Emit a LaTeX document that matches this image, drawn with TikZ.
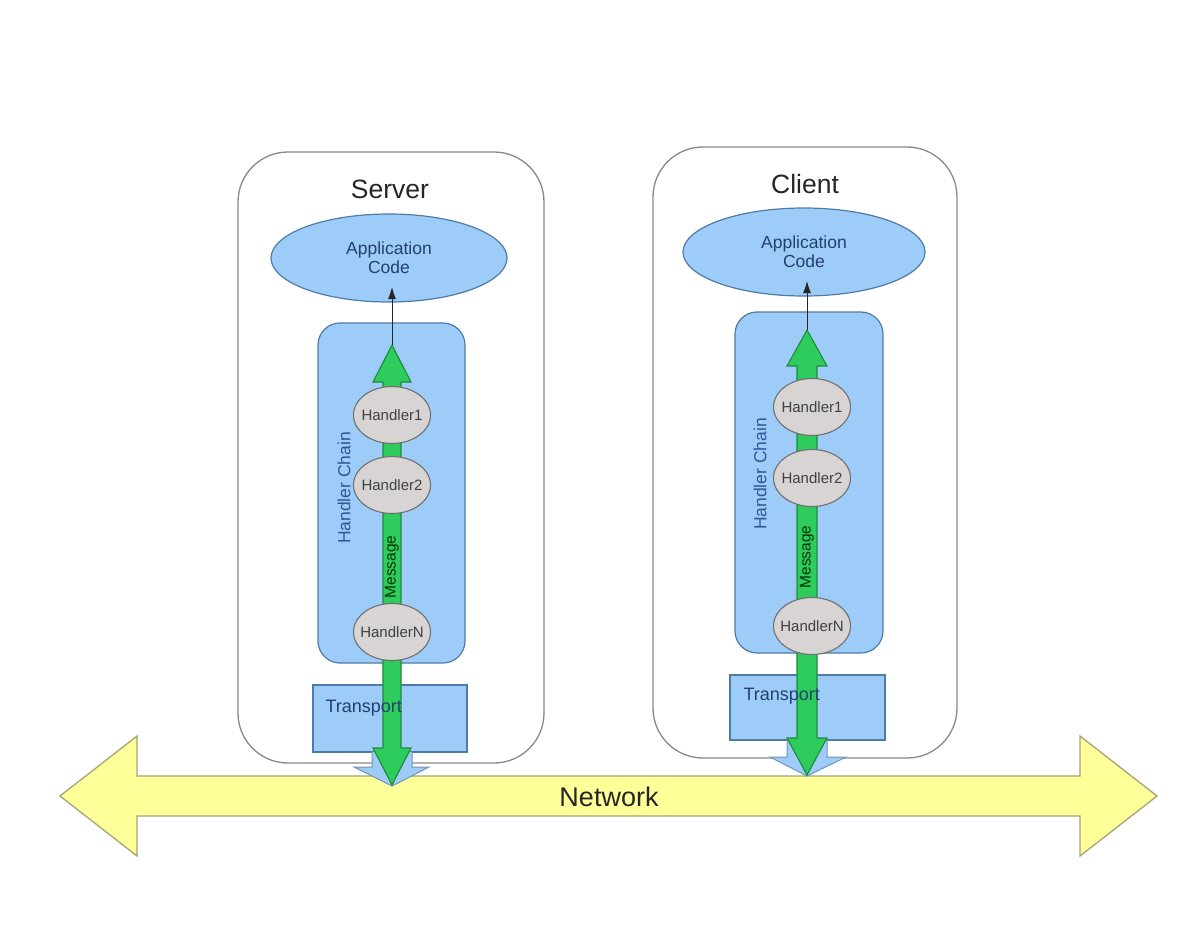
\documentclass[tikz,border=0pt]{standalone}
\usepackage{fontspec}
\setmainfont{Liberation Sans}
\usetikzlibrary{shapes.geometric,arrows.meta}
\definecolor{boxblue}{HTML}{9DCCF8}
\definecolor{blueedge}{HTML}{4E7CA6}
\definecolor{gfill}{HTML}{2ECC5C}
\definecolor{gedge}{HTML}{1E8A3C}
\definecolor{hfill}{HTML}{D8D4D4}
\definecolor{hedge}{HTML}{707070}
\definecolor{yfill}{HTML}{FFFF99}
\definecolor{yedge}{HTML}{A4A476}
\definecolor{outeredge}{HTML}{888888}
\definecolor{apptext}{HTML}{23406E}
\definecolor{chaintext}{HTML}{2A5A9A}
\tikzset{
  outerbox/.style={draw=outeredge, line width=1.3pt, fill=white, rounded corners=50pt},
  chainbox/.style={draw=blueedge, line width=1.2pt, fill=boxblue, rounded corners=22pt},
  transbox/.style={draw=blueedge, line width=1.2pt, fill=boxblue},
  appell/.style={ellipse, draw=blueedge, line width=1.2pt, fill=boxblue, inner sep=0pt,
     font=\fontsize{17.5}{19}\selectfont, text=apptext, align=center},
  handler/.style={ellipse, draw=hedge, line width=1.1pt, fill=hfill, inner xsep=-6pt, inner ysep=8pt,
     minimum width=77pt, minimum height=57pt, font=\fontsize{15}{17}\selectfont, text=black!75},
  greenarrow/.style={draw=gedge, line width=1.1pt, fill=gfill},
  palearrow/.style={draw=blueedge!80, line width=1pt, fill=boxblue},
  nettarrow/.style={draw=yedge, line width=1.3pt, fill=yfill},
  titletext/.style={font=\fontsize{26.5}{29}\selectfont, text=black!85},
  chainlabel/.style={rotate=90, font=\fontsize{17.5}{20}\selectfont, text=chaintext},
  msglabel/.style={rotate=90, font=\fontsize{15.5}{17}\selectfont, text=black!60!green!50!black},
  translabel/.style={anchor=west, font=\fontsize{18}{20}\selectfont, text=apptext},
  thinarrow/.style={draw=black!85, line width=0.9pt, -{Latex[length=12pt,width=8pt]}}
}
\begin{document}
\begin{tikzpicture}[x=1pt,y=-1pt]
\useasboundingbox[fill=white] (0,0) rectangle (1198,924);

% ---------- outer boxes ----------
\draw[outerbox] (238,152) rectangle (544,763);
\draw[outerbox] (653,147) rectangle (957,758);

% ---------- network arrow ----------
\draw[nettarrow] (60,796) -- (137,736) -- (137,776) -- (1080,776) -- (1080,736)
   -- (1157,796) -- (1080,856) -- (1080,816) -- (137,816) -- (137,856) -- cycle;
\node[font=\fontsize{27}{29}\selectfont, text=black!85] (net) at (609,797) {Network};

% ================= SERVER =================
\node[titletext] (stitle) at (390,189) {Server};
\node[appell, minimum width=236pt, minimum height=88pt] (sapp) at (389,258) {Application\\Code};
\draw[chainbox] (318,323) rectangle (465,663);
\node[chainlabel] (schain) at (344,488) {Handler Chain};
\draw[transbox] (313,685) rectangle (467,752);
% pale blue arrow out of transport
\draw[palearrow] (372,752) -- (372,767) -- (354,767) -- (392,786) -- (429,767) -- (412,767) -- (412,752);
% green message arrow
\draw[greenarrow] (392,345) -- (411,382) -- (401,382) -- (401,748) -- (411,748) -- (392,785)
   -- (373,748) -- (383,748) -- (383,382) -- (373,382) -- cycle;
\coordinate (stip) at (392,345);
\node[translabel] (strans) at (322,708) {Transport};
\node[msglabel] (smsg) at (392,567) {Message};
\node[handler] (sh1) at (392,415) {Handler1};
\node[handler] (sh2) at (392,485) {Handler2};
\node[handler] (shn) at (392,632) {HandlerN};
\coordinate (sapptip) at (392,287);
\draw[thinarrow] (stip) -- (sapptip);

% ================= CLIENT =================
\node[titletext] (ctitle) at (805,184) {Client};
\node[appell, minimum width=242pt, minimum height=88pt] (capp) at (804,252) {Application\\Code};
\draw[chainbox] (735,312) rectangle (883,653);
\node[chainlabel] (cchain) at (760,474) {Handler Chain};
\draw[transbox] (730,675) rectangle (885,740);
\draw[palearrow] (787,740) -- (787,757) -- (770,757) -- (807,776) -- (846,757) -- (827,757) -- (827,740);
\draw[greenarrow] (807,330) -- (827,366) -- (817,366) -- (817,738) -- (827,738) -- (807,775)
   -- (787,738) -- (797,738) -- (797,366) -- (787,366) -- cycle;
\coordinate (ctip) at (807,330);
\node[translabel] (ctrans) at (740,696) {Transport};
\node[msglabel] (cmsg) at (807,557) {Message};
\node[handler] (ch1) at (812,407) {Handler1};
\node[handler] (ch2) at (812,478) {Handler2};
\node[handler] (chn) at (812,626) {HandlerN};
\coordinate (capptip) at (807,281);
\draw[thinarrow] (ctip) -- (capptip);
\end{tikzpicture}
\end{document}
